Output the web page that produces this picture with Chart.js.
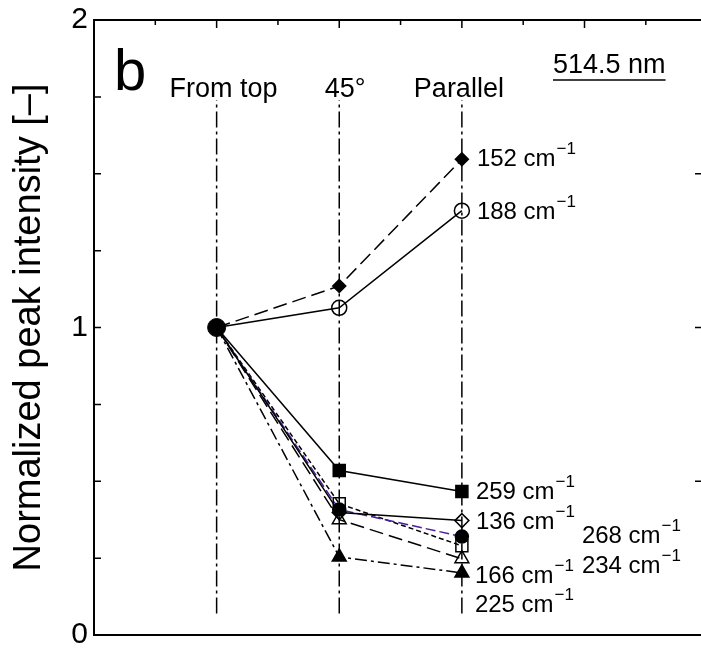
<!DOCTYPE html>
<html>
<head>
<meta charset="utf-8">
<script src="https://cdn.jsdelivr.net/npm/chart.js@4.4.1/dist/chart.umd.min.js"></script>
<style>
  html, body { margin: 0; padding: 0; background: #fff; overflow: hidden; }
  canvas { display: block; }
</style>
</head>
<body>
<canvas id="peakIntensity" width="701" height="652"></canvas>
<script>
// measuring geometries, placed at x = 1, 2, 3
var geometryNames = ['From top', '45°', 'Parallel'];
var geometryX = [1, 2, 3];

// Raman bands (cm-1) and their normalized peak intensity per geometry
var bandNames = ['152', '188', '259', '136', '268', '234', '166', '225'];
var int152 = [1, 1.135, 1.547];
var int188 = [1, 1.064, 1.380];
var int259 = [1, 0.535, 0.467];
var int136 = [1, 0.398, 0.372];
var int268 = [1, 0.408, 0.320];
var int234 = [1, 0.427, 0.290];
var int166 = [1, 0.375, 0.248];
var int225 = [1, 0.254, 0.202];
var bandValues = [int152, int188, int259, int136, int268, int234, int166, int225];

// vertical guide lines at each geometry
var guideTop = 1.74;
var guideBottom = 0.07;

var fontFam = '"Liberation Sans", Arial, Helvetica, sans-serif';

// marker / line look per band
var bandStyle = [
  { shape: 'rectRot',  r: 6.5, fill: true,  color: '#000',    dash: [14, 6] },
  { shape: 'circle',   r: 7.5, fill: false, color: '#000',    dash: [] },
  { shape: 'rect',     r: 8.5, fill: true,  color: '#000',    dash: [] },
  { shape: 'rectRot',  r: 7,   fill: false, color: '#000',    dash: [] },
  { shape: 'circle',   r: 6.5, fill: true,  color: '#4b1e9e', dash: [10, 4] },
  { shape: 'rect',     r: 8.5, fill: false, color: '#000',    dash: [5, 3] },
  { shape: 'triangle', r: 8,   fill: false, color: '#000',    dash: [14, 6] },
  { shape: 'triangle', r: 8,   fill: true,  color: '#000',    dash: [12, 4, 3, 4] }
];

// where each band label sits, relative to its Parallel marker (px)
var labelOffset = [
  [15, 7], [15, 8], [14, 8], [14, 8], [120, 6], [120, 27], [13, 24], [13, 39]
];

function setBandDatasets() {
  var sets = [];
  // common starting point, drawn on top
  sets.push({
    data: [{ x: geometryX[0], y: 1 }],
    pointStyle: 'circle', pointRadius: 9,
    pointBackgroundColor: '#000', pointBorderColor: '#000',
    showLine: false
  });
  for (var i = 0; i < bandNames.length; i++) {
    var st = bandStyle[i];
    var pts = geometryX.map(function (gx, k) { return { x: gx, y: bandValues[i][k] }; });
    sets.push({
      label: bandNames[i] + ' cm−1',
      data: pts,
      showLine: true,
      borderColor: st.color,
      borderWidth: 1.5,
      borderDash: st.dash,
      pointStyle: st.shape,
      pointRadius: [0, st.r, st.r],
      pointBorderWidth: 1.5,
      pointBorderColor: '#000',
      pointBackgroundColor: st.fill ? '#000' : 'rgba(0,0,0,0)',
      tension: 0
    });
  }
  for (var g = 0; g < geometryX.length; g++) {
    sets.push({
      data: [{ x: geometryX[g], y: guideBottom }, { x: geometryX[g], y: guideTop }],
      showLine: true,
      borderColor: '#000',
      borderWidth: 1.5,
      borderDash: [16, 4, 3, 4],
      pointRadius: 0
    });
  }
  return { datasets: sets };
}

// frame, inward ticks and all text placed on the plot
var framePlugin = {
  id: 'frame',
  afterDraw: function (chart) {
    var ctx = chart.ctx, a = chart.chartArea;
    var xs = chart.scales.x, ys = chart.scales.y;
    ctx.save();
    ctx.strokeStyle = '#000';
    ctx.lineWidth = 2;
    ctx.beginPath();
    ctx.moveTo(a.right, a.top); ctx.lineTo(a.left, a.top);
    ctx.lineTo(a.left, a.bottom); ctx.lineTo(a.right, a.bottom);
    ctx.stroke();

    ctx.lineWidth = 1.5;
    ctx.beginPath();
    for (var v = 0.25; v < 2; v += 0.25) {
      var py = ys.getPixelForValue(v);
      ctx.moveTo(a.left, py); ctx.lineTo(a.left + 7, py);
      if (v % 0.5 === 0) { ctx.moveTo(a.right, py); ctx.lineTo(a.right - 6, py); }
    }
    for (var t = 0.5; t < 5; t += 0.5) {
      var px = xs.getPixelForValue(t);
      ctx.moveTo(px, a.top); ctx.lineTo(px, a.top + (t % 1 === 0 ? 8 : 5));
    }
    ctx.stroke();

    ctx.fillStyle = '#000';
    ctx.textAlign = 'center';
    ctx.textBaseline = 'alphabetic';
    ctx.font = '27px ' + fontFam;
    var headDx = [7, 6, -3];
    for (var g = 0; g < geometryNames.length; g++) {
      ctx.fillText(geometryNames[g], xs.getPixelForValue(geometryX[g]) + headDx[g], 97);
    }

    ctx.textAlign = 'left';
    ctx.font = '58px ' + fontFam;
    ctx.fillText('b', 114, 90);

    ctx.font = '27px ' + fontFam;
    ctx.fillText('514.5 nm', 553, 73);
    var w = ctx.measureText('514.5 nm').width;
    ctx.lineWidth = 1.5;
    ctx.beginPath();
    ctx.moveTo(553, 80); ctx.lineTo(553 + w, 80);
    ctx.stroke();

    var lastX = xs.getPixelForValue(geometryX[2]);
    for (var i = 0; i < bandNames.length; i++) {
      var my = ys.getPixelForValue(bandValues[i][2]);
      var lx = lastX + labelOffset[i][0], ly = my + labelOffset[i][1];
      ctx.font = '24px ' + fontFam;
      var txt = bandNames[i] + ' cm';
      ctx.fillText(txt, lx, ly);
      var tw = ctx.measureText(txt).width;
      ctx.font = '17px ' + fontFam;
      ctx.fillText('−1', lx + tw + 1, ly - 12);
    }
    ctx.restore();
  }
};

var chartCtx = document.getElementById('peakIntensity').getContext('2d');
var peakChart = new Chart(chartCtx, {
  type: 'scatter',
  data: setBandDatasets(),
  options: {
    responsive: false,
    animation: false,
    layout: { autoPadding: false, padding: { top: 20, bottom: 17, left: 0, right: 0 } },
    plugins: { legend: { display: false }, tooltip: { enabled: false } },
    scales: {
      x: { type: 'linear', min: 0, max: 4.95, display: false },
      y: {
        min: 0, max: 2,
        ticks: { stepSize: 1, color: '#000', padding: 6, font: { size: 30, family: fontFam } },
        grid: { display: false, drawTicks: false },
        border: { display: false },
        title: {
          display: true, text: 'Normalized peak intensity [–]', color: '#000',
          font: { size: 38, family: fontFam }, padding: { top: 7, bottom: 0 }
        },
        afterFit: function (scale) {
          scale.width = 94;
          scale.paddingTop = 0;
          scale.paddingBottom = 0;
        }
      }
    }
  },
  plugins: [framePlugin]
});
</script>
</body>
</html>
